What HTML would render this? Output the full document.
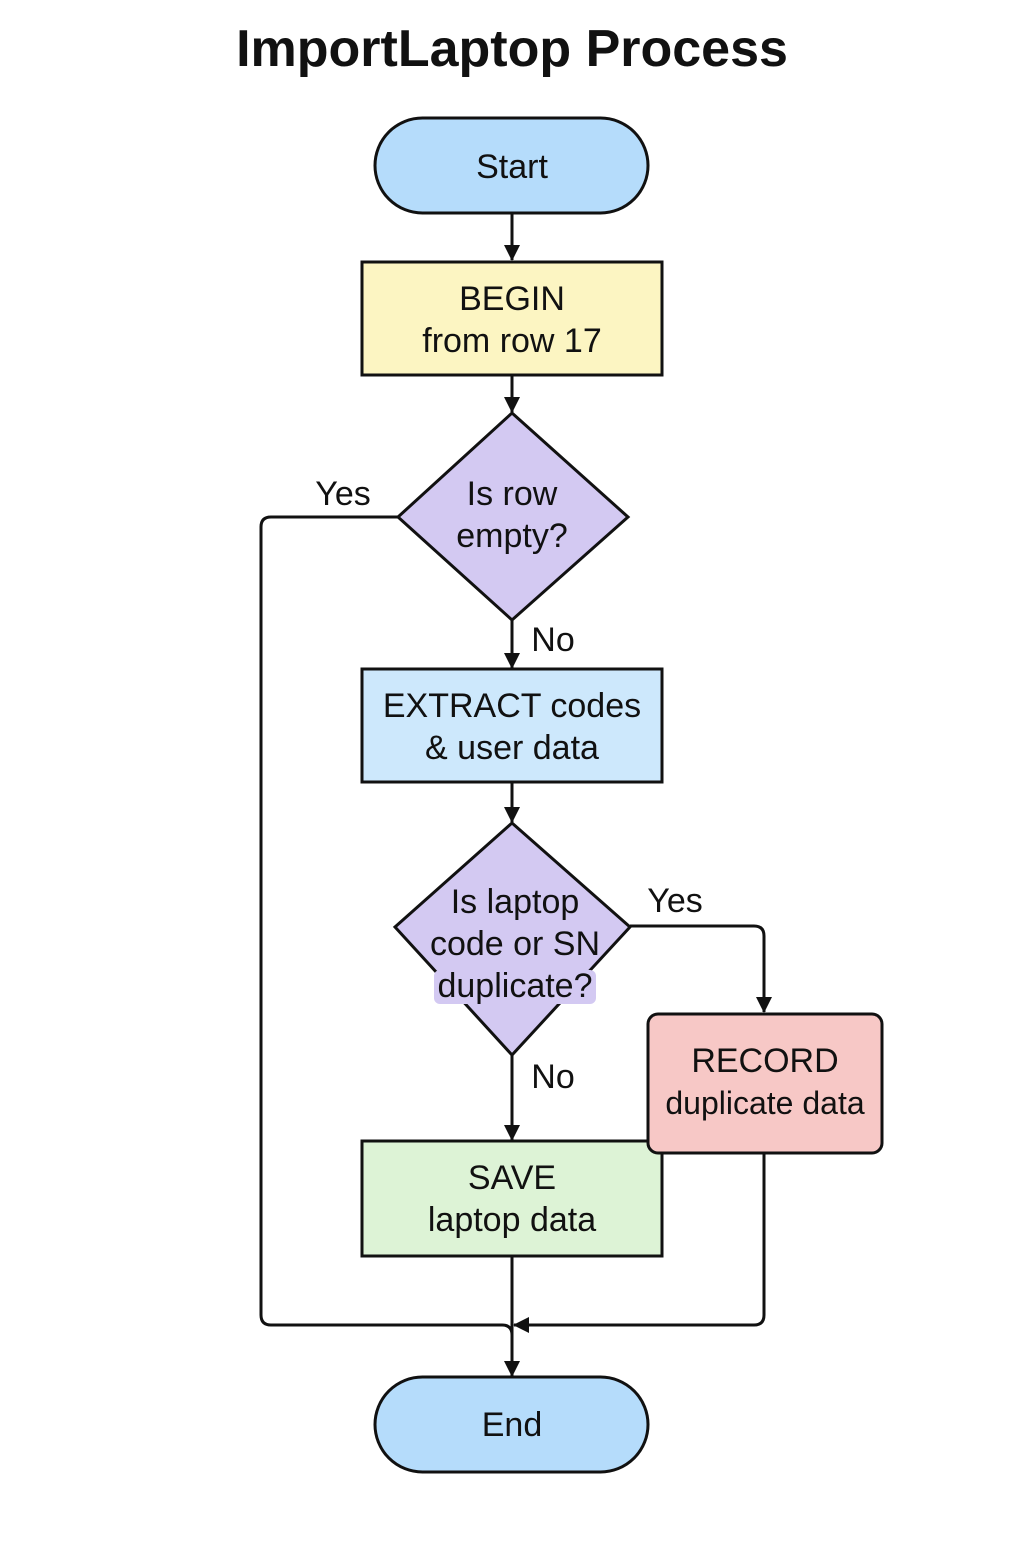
<!DOCTYPE html>
<html><head><style>
body{margin:0;background:#fff;}
svg text{font-family:"Liberation Sans",sans-serif;fill:#111;}
</style></head><body>
<svg width="1024" height="1536" viewBox="0 0 1024 1536" xmlns="http://www.w3.org/2000/svg">
<defs><marker id="b" markerWidth="16" markerHeight="16" refX="15" refY="8" orient="auto" markerUnits="userSpaceOnUse"><path d="M0,0 L16,8 L0,16 z" fill="#111"/></marker></defs>
<text x="512" y="66" font-size="52" font-weight="bold" text-anchor="middle">ImportLaptop Process</text>
<g stroke="#111" stroke-width="3" fill="none">
<line x1="512" y1="213" x2="512" y2="260" marker-end="url(#b)"/>
<line x1="512" y1="375" x2="512" y2="412" marker-end="url(#b)"/>
<line x1="512" y1="620" x2="512" y2="668" marker-end="url(#b)"/>
<line x1="512" y1="782" x2="512" y2="822" marker-end="url(#b)"/>
<line x1="512" y1="1055" x2="512" y2="1140" marker-end="url(#b)"/>
<path d="M398,517 H271 Q261,517 261,527 V1315 Q261,1325 271,1325 H502 Q512,1325 512,1335"/>
<line x1="512" y1="1256" x2="512" y2="1376" marker-end="url(#b)"/>
<path d="M630,926 H754 Q764,926 764,936 V1012" marker-end="url(#b)"/>
<path d="M764,1153 V1315 Q764,1325 754,1325 H514" marker-end="url(#b)"/>
</g>
<g stroke="#111" stroke-width="3">
<rect x="375" y="118" width="273" height="95" rx="47.5" fill="#b5dcfb"/>
<rect x="362" y="262" width="300" height="113" fill="#fcf5c2"/>
<polygon points="512,413 628,517 512,620 398,517" fill="#d3c9f2"/>
<rect x="362" y="669" width="300" height="113" fill="#cde8fc"/>
<polygon points="512,823 630,927 512,1055 395,927" fill="#d3c9f2"/>
<rect x="362" y="1141" width="300" height="115" fill="#ddf3d6"/>
<rect x="648" y="1014" width="234" height="139" rx="10" fill="#f7c8c6"/>
<rect x="375" y="1377" width="273" height="95" rx="47.5" fill="#b5dcfb"/>
</g>
<rect x="434" y="970" width="162" height="34" rx="6" fill="#d3c9f2"/>
<g font-size="34" text-anchor="middle">
<text x="512" y="178">Start</text>
<text x="512" y="310">BEGIN</text>
<text x="512" y="352">from row 17</text>
<text x="512" y="505">Is row</text>
<text x="512" y="547">empty?</text>
<text x="512" y="717">EXTRACT codes</text>
<text x="512" y="759">&amp; user data</text>
<text x="515" y="913">Is laptop</text>
<text x="515" y="955">code or SN</text>
<text x="515" y="997">duplicate?</text>
<text x="765" y="1072">RECORD</text>
<text x="765" y="1114" font-size="32">duplicate data</text>
<text x="512" y="1189">SAVE</text>
<text x="512" y="1231">laptop data</text>
<text x="512" y="1436">End</text>
<text x="343" y="505">Yes</text>
<text x="553" y="651">No</text>
<text x="675" y="912">Yes</text>
<text x="553" y="1088">No</text>
</g>
</svg>
</body></html>
